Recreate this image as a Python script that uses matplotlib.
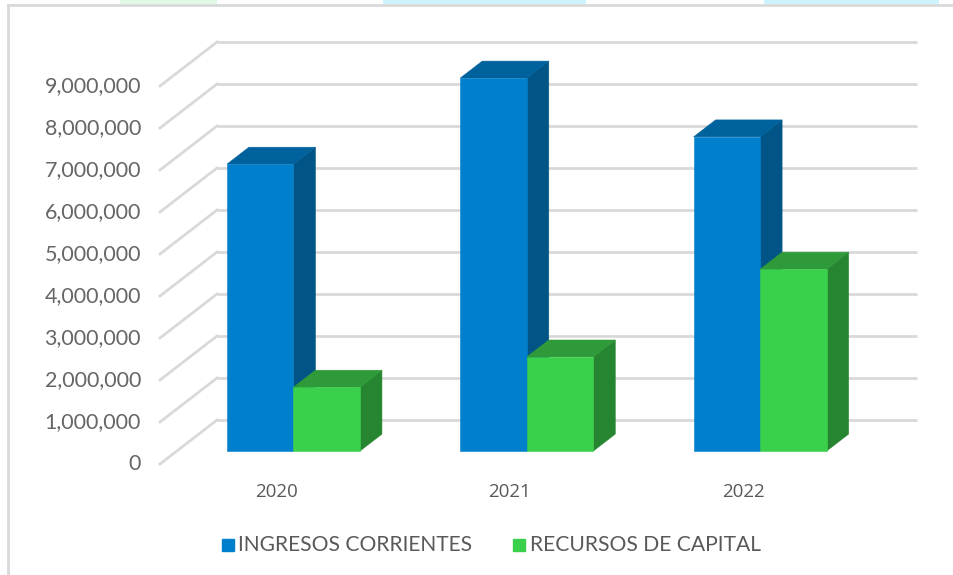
import matplotlib
matplotlib.use('Agg')
import matplotlib.pyplot as plt
from matplotlib.patches import Polygon, Rectangle

years = ['2020', '2021', '2022']
ingresos = [6830000, 8880000, 7480000]
recursos = [1520000, 2240000, 4330000]
ticks = [0, 1000000, 2000000, 3000000, 4000000, 5000000, 6000000, 7000000, 8000000, 9000000]
series_names = ['INGRESOS CORRIENTES', 'RECURSOS DE CAPITAL']

W, H = 954, 575
fig = plt.figure(figsize=(W / 100, H / 100), dpi=100)

# back wall of the 3d box, everything else hangs off this axes
ax = fig.add_axes([217 / W, 1 - 420 / H, 700 / W, 378 / H])
ax.set_xlim(0, 3)
ax.set_ylim(0, 9000000)
ax.axis('off')

# size of one full depth step in data units
depth_x = -57 / (700 / 3)
depth_y = -44 / (378 / 9000000)


def pt(x, y, d):
    return (x + d * depth_x, y + d * depth_y)


def face(xy, color, z):
    ax.add_patch(Polygon(xy, closed=True, facecolor=color, edgecolor=color, lw=0.4, zorder=z, clip_on=False))


def bar3d(x0, x1, v, front, side, top, z):
    d0, d1 = 0.705, 0.32
    face([pt(x1, 0, d0), pt(x1, 0, d1), pt(x1, v, d1), pt(x1, v, d0)], side, z)
    face([pt(x0, v, d0), pt(x1, v, d0), pt(x1, v, d1), pt(x0, v, d1)], top, z)
    face([pt(x0, 0, d0), pt(x1, 0, d0), pt(x1, v, d0), pt(x0, v, d0)], front, z + 0.1)


grid_color = '#d9d9d9'
for t in ticks:
    ax.plot([0, 3], [t, t], color=grid_color, lw=2, zorder=1, clip_on=False, solid_capstyle='butt')
    a, b = pt(0, t, 0), pt(0, t, 1)
    ax.plot([a[0], b[0]], [a[1], b[1]], color=grid_color, lw=2, zorder=1, clip_on=False)
    ax.text(b[0] - 19 / (700 / 3), b[1], f'{t:,}', ha='right', va='center', fontsize=15.5,
            color='#666666', family='Lato', clip_on=False)

width = 0.285
for i, year in enumerate(years):
    c = i + 0.5
    bar3d(c - width, c, ingresos[i], '#0080cc', '#005586', '#00629c', 3)
    bar3d(c, c + width, recursos[i], '#3bd04b', '#258530', '#2e9a3a', 4)
    p = pt(c, 0, 0.705)
    ax.annotate(year, xy=p, xytext=(-17, -41), textcoords='offset pixels', ha='center', va='center',
                fontsize=13.5, color='#595959', family='Open Sans', annotation_clip=False)

# legend drawn by hand, matches the position in the original
fig.add_artist(Rectangle((222 / W, 1 - 551 / H), 12 / W, 12 / H, color='#0080cc', transform=fig.transFigure))
fig.text(238 / W, 1 - 545 / H, series_names[0], fontsize=15.1, color='#595959', family='Lato', va='center')
fig.add_artist(Rectangle((513 / W, 1 - 551 / H), 12 / W, 12 / H, color='#3bd04b', transform=fig.transFigure))
fig.text(530 / W, 1 - 545 / H, series_names[1], fontsize=15.2, color='#595959', family='Lato', va='center')

# highlighted bits of the line above the chart
for x0, x1, col in [(120, 217, '#dff9e4'), (383, 586, '#cdf3ff'), (764, 939, '#cdf3ff')]:
    fig.add_artist(Rectangle((x0 / W, 1 - 4 / H), (x1 - x0) / W, 4 / H, color=col, lw=0, transform=fig.transFigure))

# chart frame
fig.add_artist(plt.Line2D([8 / W, 8 / W], [0, 1 - 5 / H], color='#d9d9d9', lw=2))
fig.add_artist(plt.Line2D([8 / W, 1], [1 - 5 / H, 1 - 5 / H], color='#d9d9d9', lw=2))

fig.savefig('out.png', dpi=100)
